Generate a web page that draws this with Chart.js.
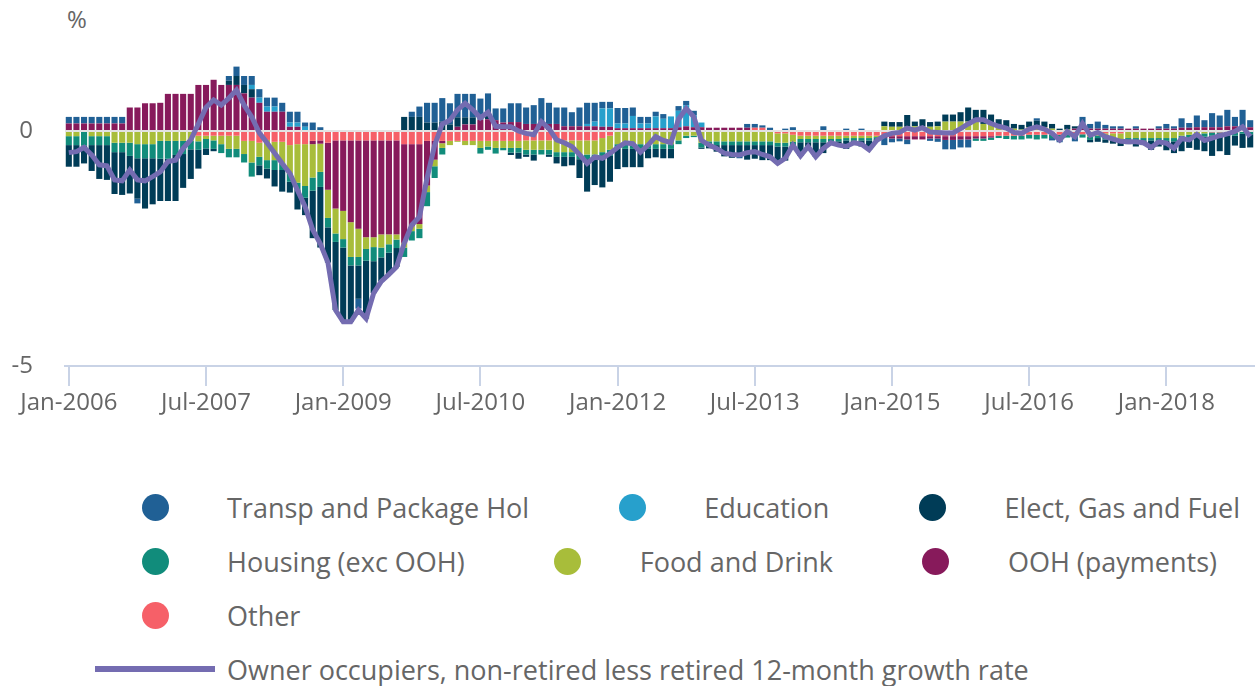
<!DOCTYPE html>
<html>
<head>
<meta charset="utf-8">
<script src="https://cdn.jsdelivr.net/npm/chart.js@4.4.1/dist/chart.umd.min.js"></script>
<style>
  html, body { margin: 0; padding: 0; background: #fff; }
  body { width: 1257px; height: 686px; position: relative; overflow: hidden; font-family: "Open Sans", sans-serif; color: #666; }
  #wrap { position: absolute; left: 0; top: 0; width: 1257px; height: 430px; }
  #unit { position: absolute; left: 67px; top: 7px; font-size: 24px; line-height: 24px; }
  #legend { position: absolute; left: 95px; top: 480px; font-size: 27px; }
  .row { display: flex; align-items: center; height: 54px; white-space: nowrap; }
  .item { display: flex; align-items: center; margin-right: 43px; }
  .sym { width: 120px; height: 27px; margin-right: 12px; display: flex; align-items: center; justify-content: center; }
  .dot { width: 27px; height: 27px; border-radius: 50%; }
  .bar { width: 120px; height: 6px; }
</style>
</head>
<body>
<div id="unit">%</div>
<div id="wrap"><canvas id="chart"></canvas></div>
<div id="legend"></div>
<script>
// Місяці та роки для категорій осі X
const months = ['Jan', 'Feb', 'Mar', 'Apr', 'May', 'Jun', 'Jul', 'Aug', 'Sep', 'Oct', 'Nov', 'Dec'];
const years = [2006, 2007, 2008, 2009, 2010, 2011, 2012, 2013, 2014, 2015, 2016, 2017, 2018];
const yTicks = [-5, 0];

// Внески компонентів (в.п.), по рядку на рік
const transp = [
  0.14, 0.14, 0.14, 0.14, 0.14, 0.14, 0.14, 0.14, 0, -0.1, 0, 0,
  0, 0, 0, 0, 0, 0, 0, 0, 0, 0.1, 0.2, 0.19,
  0.19, 0.18, 0.19, 0.19, 0.19, 0.23, 0.23, 0.09, 0.18, 0.08, 0, 0,
  0, 0, -0.21, 0, 0, 0, 0, 0, 0, 0.11, 0.22, 0.42,
  0.42, 0.5, 0.45, 0.5, 0.5, 0.5, 0.45, 0.45, 0.25, 0.3, 0.4, 0.4,
  0.35, 0.4, 0.5, 0.45, 0.35, 0.4, 0.3, 0.4, 0.45, 0.4, 0.14, 0.14,
  0.33, 0.33, 0.18, 0.14, 0.14, 0.1, 0.1, 0, 0.1, 0.09, 0.1, 0,
  0, 0, 0, 0, -0.05, 0.08, 0.08, 0.05, 0.07, 0, 0.05, 0.08,
  0, 0, 0, 0.1, 0, 0, 0.05, 0, 0.05, 0, 0, -0.15,
  -0.08, -0.06, -0.1, 0, 0, -0.05, -0.07, -0.2, -0.2, -0.17, -0.17, 0,
  0, 0, 0, 0, 0, 0, 0, 0.05, 0, -0.05, -0.09, 0,
  -0.07, 0.15, 0.1, 0.15, 0.08, 0.05, 0.05, 0, 0.05, 0, 0, 0.05,
  0.1, 0.05, 0.2, 0.1, 0.25, 0.15, 0.3, 0.25, 0.35, 0.2, 0.35, 0.15
];
const education = [
  0, 0, 0, 0, 0, 0, 0, 0, 0, 0, 0, 0,
  0, 0, 0, 0, 0, 0, 0, 0, 0, 0, 0, 0,
  0.09, 0.11, 0.11, 0.11, 0, 0.09, 0.09, 0.09, 0, 0, 0, 0,
  0, 0, 0, 0, 0, 0, 0, 0, 0, 0, 0, 0,
  0, 0, 0, 0, 0, 0, 0, 0, 0, 0, 0, 0,
  0, 0, 0, 0, 0, 0, 0, 0, 0.05, 0.1, 0.39, 0.39,
  0.1, 0.1, 0.26, 0.1, 0.1, 0.25, 0.2, 0.25, 0.35, 0.45, 0.25, 0.1,
  0, 0, 0, 0, 0, 0, 0, 0, 0, 0, 0, 0,
  0, 0, 0, 0, 0, 0, 0, 0, 0, 0, 0, 0,
  0, 0, 0, 0, 0, 0, 0, 0, 0, 0, 0, 0,
  0, 0, 0, 0, 0, 0, 0, 0, 0, 0, 0, 0,
  0, 0, 0, 0, 0, 0, 0, 0, 0, 0, 0, 0,
  0, 0, 0, 0, 0, 0, 0, 0, 0, 0, 0, 0
];
const elect = [
  -0.46, -0.46, -0.38, -0.55, -0.72, -0.74, -0.89, -0.91, -0.8, -0.86, -1.07, -0.98,
  -0.9, -0.9, -0.98, -0.72, -0.63, -0.4, -0.14, -0.05, 0, 0.09, 0.19, 0.18,
  0.18, -0.21, -0.21, -0.35, -0.46, -0.23, -0.43, -0.37, -1.01, -1.29, -0.75, -1.45,
  -1.58, -1.2, -0.71, -1.23, -0.68, -0.51, -0.46, -0.4, 0.3, 0.3, 0.3, 0.18,
  0.18, 0.2, 0.14, 0.2, 0.15, 0.15, 0, 0.1, 0, 0, -0.05, -0.13,
  -0.05, -0.13, 0.05, -0.05, -0.14, -0.2, -0.18, -0.4, -0.69, -0.55, -0.62, -0.55,
  -0.43, -0.39, -0.39, -0.39, -0.2, -0.18, -0.2, -0.2, 0, 0, 0, -0.03,
  -0.07, -0.14, -0.24, -0.27, -0.23, -0.31, -0.29, -0.32, -0.32, -0.36, -0.3, -0.07,
  -0.29, -0.09, -0.31, -0.23, -0.03, -0.08, -0.18, -0.05, -0.13, -0.2, -0.03, 0.1,
  0.1, 0.1, 0.25, 0.1, 0.15, 0.1, 0.1, 0.15, 0.15, 0.2, 0.3, 0.25,
  0.3, 0.2, 0.15, 0.15, 0.1, 0.1, 0.12, 0.12, 0.12, 0.1, 0.05, 0.1,
  0.05, 0.1, -0.05, -0.08, -0.07, -0.07, -0.1, -0.08, -0.13, -0.1, -0.2, -0.13,
  -0.2, -0.25, -0.26, -0.21, -0.28, -0.31, -0.43, -0.33, -0.41, -0.21, -0.3, -0.28
];
const housing = [
  -0.19, -0.19, -0.31, -0.19, -0.19, -0.19, -0.2, -0.2, -0.28, -0.3, -0.3, -0.3,
  -0.38, -0.38, -0.3, -0.28, -0.18, -0.18, -0.2, -0.18, -0.19, -0.18, -0.18, -0.18,
  -0.3, -0.18, -0.18, -0.21, -0.14, -0.18, -0.14, -0.25, -0.28, -0.32, -0.2, -0.18,
  -0.18, -0.18, -0.18, -0.25, -0.3, -0.21, -0.18, -0.18, -0.2, -0.2, -0.2, -0.3,
  -0.25, -0.14, 0, 0, 0, 0, -0.12, -0.07, -0.12, -0.05, -0.1, -0.1,
  -0.1, -0.1, -0.1, -0.1, -0.1, -0.1, -0.1, -0.1, -0.1, -0.1, -0.13, -0.13,
  -0.1, -0.1, -0.1, -0.1, -0.1, -0.1, -0.1, -0.1, -0.08, -0.05, -0.03, -0.1,
  -0.08, -0.08, -0.08, -0.08, -0.08, -0.08, -0.08, -0.08, -0.08, -0.08, -0.08, -0.08,
  -0.07, -0.07, -0.07, -0.07, -0.05, -0.05, -0.05, -0.05, -0.05, -0.05, -0.04, 0,
  0, 0, 0, 0, 0, 0, 0, 0, 0, 0, 0, -0.05,
  -0.05, -0.05, -0.05, -0.07, -0.08, -0.08, -0.08, -0.1, -0.08, -0.07, -0.07, -0.07,
  -0.07, -0.07, -0.07, -0.05, -0.05, -0.05, -0.05, -0.05, -0.05, -0.05, -0.05, -0.05,
  -0.06, -0.07, -0.07, -0.07, -0.07, -0.07, -0.07, -0.07, -0.07, -0.07, -0.06, -0.07
];
const food = [
  -0.11, -0.11, 0, -0.11, -0.11, -0.11, -0.25, -0.25, -0.25, -0.28, -0.28, -0.28,
  -0.21, -0.21, -0.21, -0.21, -0.21, -0.12, -0.07, -0.1, -0.18, -0.28, -0.28, -0.28,
  -0.46, -0.3, -0.43, -0.39, -0.46, -0.6, -0.82, -0.89, -0.71, -0.6, -0.6, -0.53,
  -0.6, -0.74, -0.6, -0.25, -0.21, -0.28, -0.21, -0.11, -0.1, -0.1, -0.1, -0.14,
  -0.14, -0.1, -0.09, -0.02, -0.09, -0.09, -0.15, -0.12, -0.15, -0.15, -0.15, -0.15,
  -0.2, -0.2, -0.2, -0.2, -0.25, -0.25, -0.25, -0.3, -0.3, -0.3, -0.3, -0.3,
  -0.28, -0.28, -0.28, -0.28, -0.28, -0.28, -0.28, -0.28, -0.2, -0.1, -0.1, -0.25,
  -0.22, -0.22, -0.22, -0.22, -0.22, -0.22, -0.22, -0.22, -0.22, -0.2, -0.2, -0.15,
  -0.07, -0.07, -0.07, -0.07, -0.07, -0.07, -0.05, -0.05, -0.05, -0.05, -0.03, 0.1,
  0.09, 0.09, 0.09, 0.1, 0.1, 0.09, 0.1, 0.2, 0.2, 0.2, 0.2, 0.2,
  0.15, 0.15, 0.1, 0.08, 0.05, 0.03, 0.08, 0.1, 0.08, 0.05, 0, 0.03,
  0, 0, -0.05, -0.05, -0.08, -0.1, -0.12, -0.15, -0.15, -0.15, -0.15, -0.15,
  -0.15, -0.15, -0.1, -0.08, -0.05, -0.05, 0, 0, 0, 0, 0, 0
];
const ooh = [
  0.16, 0.16, 0.16, 0.16, 0.16, 0.16, 0.16, 0.16, 0.5, 0.5, 0.59, 0.59,
  0.6, 0.79, 0.79, 0.79, 0.79, 0.98, 0.98, 1.09, 0.98, 0.98, 0.98, 0.8,
  0.71, 0.6, 0.41, 0.41, 0.41, 0.09, 0.09, 0, -0.07, -0.07, -1.0, -1.45,
  -1.5, -1.74, -1.88, -2.06, -2.06, -2.0, -2.0, -2.0, -2.1, -1.75, -1.7, -0.95,
  -0.4, -0.05, 0, 0.09, 0.14, 0.14, 0.24, 0.25, 0.23, 0.18, 0.19, 0.19,
  0.15, 0.15, 0.15, 0.15, 0.15, 0.1, 0.1, 0.1, 0.1, 0.1, 0.09, 0.09,
  0.06, 0.06, 0.06, 0.06, 0.06, 0.06, 0.06, 0.06, 0.08, 0.1, 0.08, 0.08,
  0.07, 0.07, 0.07, 0.07, 0.07, 0.07, 0, 0, 0, 0, 0, 0,
  0, 0, 0, 0, 0, 0, 0, 0, 0, 0, 0, -0.05,
  -0.05, -0.05, -0.07, -0.07, -0.07, -0.05, -0.05, -0.08, -0.08, -0.07, -0.07, -0.05,
  -0.05, -0.03, 0, 0, 0, 0, 0, 0, 0, 0, 0, 0,
  0.05, 0.05, 0.05, 0.05, 0.05, 0.05, 0.05, 0.05, 0.05, 0.05, 0.05, 0.05,
  0.05, 0.05, 0.07, 0.07, 0.08, 0.08, 0.08, 0.08, 0.1, 0.1, 0.1, 0.08
];
const other = [
  0, 0, 0, 0, 0, 0, 0, 0, 0, 0, 0, 0,
  0, 0, 0, 0, 0, -0.1, -0.1, -0.1, -0.1, -0.1, -0.1, -0.21,
  -0.21, -0.25, -0.19, -0.23, -0.23, -0.3, -0.28, -0.28, -0.21, -0.2, -0.25, -0.2,
  -0.2, -0.2, -0.2, -0.2, -0.2, -0.2, -0.2, -0.2, -0.28, -0.28, -0.28, -0.21,
  -0.21, -0.21, -0.21, -0.21, -0.21, -0.21, -0.21, -0.21, -0.21, -0.21, -0.21, -0.21,
  -0.2, -0.2, -0.2, -0.2, -0.2, -0.2, -0.2, -0.2, -0.2, -0.2, -0.15, -0.1,
  0, 0, 0, 0, 0, 0, 0, 0, 0, 0, 0, 0,
  0, 0, 0, 0, 0, 0, 0.07, 0.07, 0, -0.05, -0.05, -0.08,
  -0.1, -0.1, -0.1, -0.1, -0.1, -0.1, -0.1, -0.1, -0.1, -0.1, -0.1, -0.1,
  -0.11, -0.11, -0.11, -0.11, -0.11, -0.11, -0.11, -0.11, -0.11, -0.11, -0.11, -0.11,
  -0.11, -0.11, -0.1, -0.1, -0.1, -0.1, -0.08, -0.08, -0.08, -0.08, -0.08, -0.07,
  -0.08, -0.07, -0.07, -0.05, -0.05, -0.05, -0.05, 0, 0, 0, 0, 0,
  0, 0, 0, 0, 0, 0, -0.03, -0.03, -0.03, -0.03, 0, 0
];
// Різниця 12-місячних темпів (лінія)
const growth = [
  -0.46, -0.44, -0.35, -0.51, -0.72, -0.74, -1.04, -1.06, -0.83, -1.04, -1.06, -0.97,
  -0.87, -0.65, -0.62, -0.37, -0.19, 0.15, 0.5, 0.66, 0.55, 0.7, 0.87, 0.55,
  0.3, -0.04, -0.25, -0.47, -0.69, -0.9, -1.26, -1.61, -2.1, -2.4, -2.8, -3.81,
  -4.06, -4.06, -3.81, -3.99, -3.45, -3.2, -3.05, -2.89, -2.39, -2.0, -1.83, -1.0,
  -0.3, 0.15, 0.23, 0.45, 0.59, 0.45, 0.28, 0.4, 0.1, 0.09, 0.09, 0,
  -0.05, -0.08, 0.2, 0.05, -0.19, -0.25, -0.33, -0.5, -0.69, -0.55, -0.58, -0.48,
  -0.35, -0.25, -0.27, -0.45, -0.3, -0.12, -0.2, -0.25, 0.25, 0.48, 0.3, -0.2,
  -0.3, -0.37, -0.47, -0.5, -0.51, -0.46, -0.44, -0.5, -0.55, -0.69, -0.58, -0.3,
  -0.53, -0.33, -0.55, -0.37, -0.25, -0.3, -0.33, -0.25, -0.28, -0.4, -0.2, -0.1,
  -0.05, -0.03, 0.06, 0.02, 0.07, -0.02, -0.03, -0.04, -0.04, 0.05, 0.15, 0.24,
  0.24, 0.16, 0.1, 0.06, -0.03, -0.05, 0.04, 0.09, 0.04, -0.05, -0.19, -0.01,
  -0.12, 0.16, -0.09, -0.03, -0.12, -0.17, -0.22, -0.23, -0.23, -0.25, -0.35, -0.23,
  -0.26, -0.37, -0.16, -0.19, -0.07, -0.2, -0.15, -0.1, -0.06, -0.01, 0.09, -0.12
];

const categories = [];
years.forEach(y => months.forEach(m => categories.push(m + '-' + y)));

// Серії в порядку легенди
const seriesList = [
  { name: 'Transp and Package Hol', data: transp, color: '#206095' },
  { name: 'Education', data: education, color: '#27a0cc' },
  { name: 'Elect, Gas and Fuel', data: elect, color: '#003c57' },
  { name: 'Housing (exc OOH)', data: housing, color: '#118c7b' },
  { name: 'Food and Drink', data: food, color: '#a8bd3a' },
  { name: 'OOH (payments)', data: ooh, color: '#871a5b' },
  { name: 'Other', data: other, color: '#f66068' }
];
const lineName = 'Owner occupiers, non-retired less retired 12-month growth rate';
const lineColor = '#746cb1';
const axisColor = '#c9d3e6';

// "Other" найближче до нуля, тому стек будується у зворотньому порядку
const datasets = seriesList.slice().reverse().map(s => ({
  type: 'bar',
  label: s.name,
  data: s.data,
  backgroundColor: s.color,
  borderWidth: 0,
  stack: 'parts',
  order: 2,
  categoryPercentage: 1,
  barPercentage: 0.8
}));
datasets.push({
  type: 'line',
  label: lineName,
  data: growth,
  borderColor: lineColor,
  borderWidth: 5,
  pointRadius: 0,
  tension: 0,
  fill: false,
  stack: 'line',
  order: 1
});

Chart.defaults.font.family = '"Open Sans", sans-serif';
Chart.defaults.color = '#666';

new Chart(document.getElementById('chart'), {
  type: 'bar',
  data: { labels: categories, datasets: datasets },
  options: {
    responsive: true,
    maintainAspectRatio: false,
    animation: false,
    events: [],
    layout: { padding: { top: 37, right: 3, left: 0, bottom: 0 } },
    plugins: { legend: { display: false }, tooltip: { enabled: false } },
    scales: {
      x: {
        stacked: true,
        afterFit: s => { s.height = 64; },
        border: { color: axisColor, width: 2 },
        grid: {
          offset: false,
          drawOnChartArea: false,
          tickLength: 20,
          lineWidth: 2,
          color: ctx => (ctx.index % 18 === 0 ? axisColor : 'rgba(0,0,0,0)')
        },
        ticks: {
          autoSkip: false,
          maxRotation: 0,
          padding: 3,
          font: { size: 24 },
          callback: function (val, index) {
            return index % 18 === 0 ? this.getLabelForValue(val) : '';
          }
        }
      },
      y: {
        stacked: true,
        min: -5,
        max: 2,
        // ширина осі фіксована, відступи підписів не мають зсувати область графіка
        afterFit: s => { s.width = 65; s.paddingTop = 0; s.paddingBottom = 0; },
        afterBuildTicks: s => { s.ticks = yTicks.map(v => ({ value: v })); },
        border: { display: false },
        grid: {
          drawTicks: false,
          lineWidth: 2,
          color: ctx => (ctx.tick && ctx.tick.value === 0 ? '#e2e2e2' : 'rgba(0,0,0,0)')
        },
        ticks: { padding: 32, font: { size: 24 } }
      }
    }
  }
});

// Легенда: три колонки кружечків, потім лінія
const legend = document.getElementById('legend');
const rows = [[0, 1, 2], [3, 4, 5], [6]];
rows.forEach(r => {
  const row = document.createElement('div');
  row.className = 'row';
  r.forEach(i => {
    const s = seriesList[i];
    row.innerHTML += '<div class="item"><div class="sym"><div class="dot" style="background:' + s.color +
      '"></div></div><span>' + s.name + '</span></div>';
  });
  legend.appendChild(row);
});
const lineRow = document.createElement('div');
lineRow.className = 'row';
lineRow.innerHTML = '<div class="item"><div class="sym"><div class="bar" style="background:' + lineColor +
  '"></div></div><span>' + lineName + '</span></div>';
legend.appendChild(lineRow);
</script>
</body>
</html>
